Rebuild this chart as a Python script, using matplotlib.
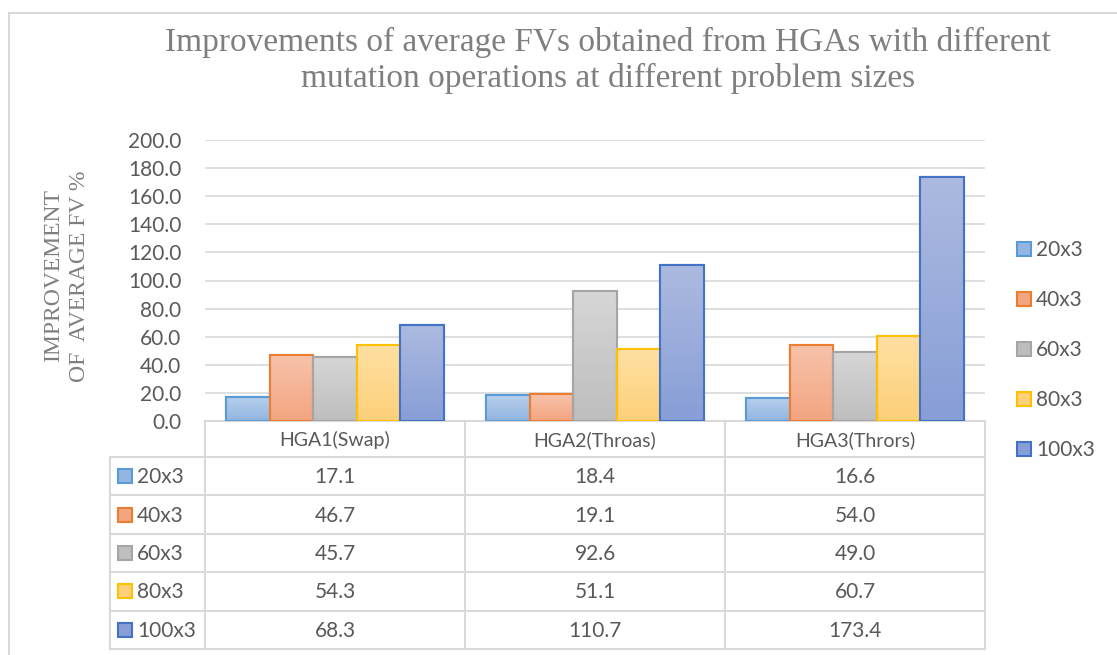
import numpy as np
import matplotlib
matplotlib.use("Agg")
import matplotlib.pyplot as plt
from matplotlib.colors import LinearSegmentedColormap
from matplotlib.patches import Rectangle

categories = ["HGA1(Swap)", "HGA2(Throas)", "HGA3(Thrors)"]
series_names = ["20x3", "40x3", "60x3", "80x3", "100x3"]
v_20x3 = [17.1, 18.4, 16.6]
v_40x3 = [46.7, 19.1, 54.0]
v_60x3 = [45.7, 92.6, 49.0]
v_80x3 = [54.3, 51.1, 60.7]
v_100x3 = [68.3, 110.7, 173.4]
series_values = [v_20x3, v_40x3, v_60x3, v_80x3, v_100x3]
yticks = [0, 20, 40, 60, 80, 100, 120, 140, 160, 180, 200]

tops = ["#B6CFEC", "#F7C2AA", "#D6D6D6", "#FFE0A3", "#ACBAE0"]
bottoms = ["#92B6E1", "#F3A580", "#BEBEBE", "#FDD079", "#879ED6"]
edges = ["#5B9BD5", "#ED7D31", "#A5A5A5", "#FFC000", "#4472C4"]

W, H = 1117, 655
fig = plt.figure(figsize=(W / 100, H / 100), dpi=100)

def fx(x):
    return x / W

def fy(y):
    return 1 - y / H

txt = "#595959"
sans = "Lato"
serif = "Liberation Serif"

# overlay axes in pixel coordinates for layout elements
ov = fig.add_axes([0, 0, 1, 1], zorder=0)
ov.set_xlim(0, W)
ov.set_ylim(H, 0)
ov.axis("off")

ax = fig.add_axes([fx(205), fy(421), fx(985) - fx(205), fy(140) - fy(421)], zorder=1)
ax.patch.set_alpha(0)

n = len(series_names)
w = 0.1677
x = np.arange(len(categories))
for i, (name, vals) in enumerate(zip(series_names, series_values)):
    pos = x + (i - (n - 1) / 2) * w
    bars = ax.bar(pos, vals, width=w, color=bottoms[i], edgecolor=edges[i], linewidth=1.5, zorder=3)
    cmap = LinearSegmentedColormap.from_list(name, [bottoms[i], tops[i]])
    for b in bars:
        bx, bw, bh = b.get_x(), b.get_width(), b.get_height()
        grad = np.linspace(0, 1, 64).reshape(-1, 1)
        im = ax.imshow(grad, cmap=cmap, origin="lower", aspect="auto",
                       extent=[bx, bx + bw, 0, bh], zorder=3.5, interpolation="bilinear")
        im.set_clip_path(b)
        ax.add_patch(Rectangle((bx, 0), bw, bh, fill=False, edgecolor=edges[i], linewidth=1.5, zorder=4))

ax.set_xlim(-0.5, len(categories) - 0.5)
ax.set_ylim(0, 200)
ax.set_yticks(yticks)
ax.set_yticklabels([f"{t:.1f}" for t in yticks], fontfamily=sans, fontsize=15, color=txt)
ax.tick_params(axis="y", length=0, pad=17)
ax.set_xticks([])
for s in ax.spines.values():
    s.set_visible(False)
ax.grid(axis="y", color="#D9D9D9", linewidth=1.2, zorder=0)
ax.set_axisbelow(True)

# frame
frame_c = "#D9D9D9"
ov.plot([9, W], [13, 13], color=frame_c, lw=1.5)
ov.plot([9, 9], [13, H], color=frame_c, lw=1.5)

# title
title_c = "#7F7F7F"
fig.text(fx(608), fy(42), "Improvements of average FVs obtained from HGAs with different",
         ha="center", va="center", fontfamily=serif, fontsize=24, color=title_c)
fig.text(fx(608), fy(78), "mutation operations at different problem sizes",
         ha="center", va="center", fontfamily=serif, fontsize=24, color=title_c)

# y label
fig.text(fx(67), fy(276), "IMPROVEMENT\nOF  AVERAGE FV %", rotation=90, ha="center", va="center",
         fontfamily=serif, fontsize=17, color=title_c, linespacing=1.3, multialignment="center")

# data table
gc = "#D9D9D9"
col_edges = [205, 465, 725, 985]
row_top = 421
header_bottom = 457
row_h = 38.4
row_edges = [header_bottom + k * row_h for k in range(n + 1)]
tleft = 110
ov.plot([col_edges[0], col_edges[-1]], [row_top, row_top], color=gc, lw=1.5, zorder=2)
for cx in col_edges:
    ov.plot([cx, cx], [row_top, row_edges[-1]], color=gc, lw=1.5)
for ry in row_edges:
    ov.plot([tleft, col_edges[-1]], [ry, ry], color=gc, lw=1.5)
ov.plot([tleft, tleft], [header_bottom, row_edges[-1]], color=gc, lw=1.5)

for j, c in enumerate(categories):
    cx = (col_edges[j] + col_edges[j + 1]) / 2
    ov.text(cx, (row_top + header_bottom) / 2 + 1, c, ha="center", va="center",
            fontfamily=sans, fontsize=14, color=txt)

for i, (name, vals) in enumerate(zip(series_names, series_values)):
    cy = (row_edges[i] + row_edges[i + 1]) / 2
    ov.add_patch(Rectangle((118, cy - 7), 14, 14, facecolor=bottoms[i], edgecolor=edges[i], lw=1.5))
    ov.text(137, cy + 1, name, ha="left", va="center", fontfamily=sans, fontsize=15, color=txt)
    for j, v in enumerate(vals):
        cx = (col_edges[j] + col_edges[j + 1]) / 2
        ov.text(cx, cy + 1, f"{v:.1f}", ha="center", va="center", fontfamily=sans, fontsize=15, color=txt)

# right legend
leg_y = [249, 299, 349, 399, 449]
for i, name in enumerate(series_names):
    ov.add_patch(Rectangle((1017, leg_y[i] - 7), 14, 14, facecolor=bottoms[i], edgecolor=edges[i], lw=1.5))
    ov.text(1036, leg_y[i] + 1, name, ha="left", va="center", fontfamily=sans, fontsize=15, color=txt)

fig.savefig("out.png", dpi=100)
